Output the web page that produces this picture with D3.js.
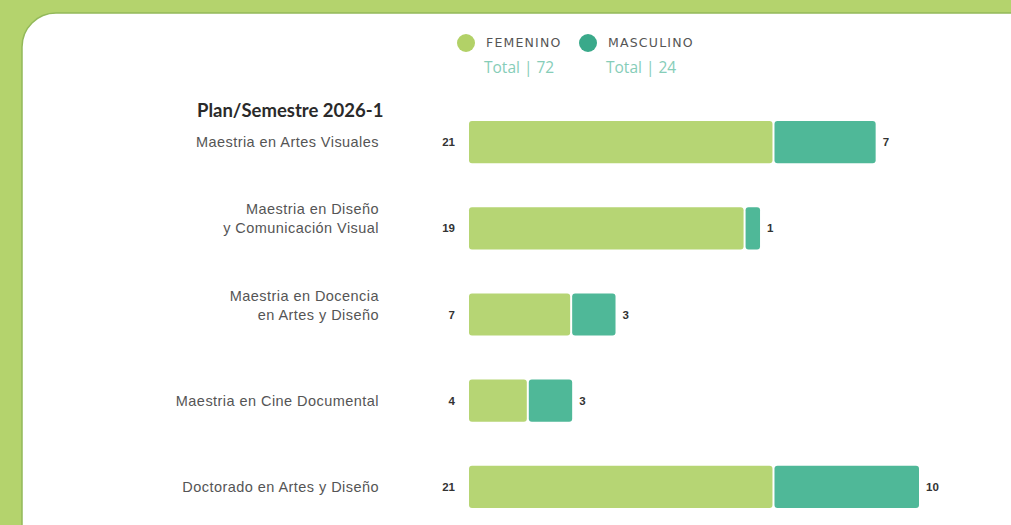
<!DOCTYPE html>
<html>
<head>
<meta charset="utf-8">
<script src="https://cdn.jsdelivr.net/npm/d3@7"></script>
<style>
  html, body { margin: 0; padding: 0; background: #b4d36d; }
  svg { display: block; }
</style>
</head>
<body>
<svg id="chart" width="1011" height="525"></svg>
<script>
const title = 'Plan/Semestre 2026-1'
const categories = [
  'Maestria en Artes Visuales',
  'Maestria en Diseño|y Comunicación Visual',
  'Maestria en Docencia|en Artes y Diseño',
  'Maestria en Cine Documental',
  'Doctorado en Artes y Diseño'
]
const femenino = [21, 19, 7, 4, 21]
const masculino = [7, 1, 3, 3, 10]
const seriesNames = ['FEMENINO', 'MASCULINO']
const colors = ['#b6d574', '#4fb898']
const legendColors = ['#b2d167', '#3aa98a']

let svg = d3.select('#chart')

// white card with rounded corner
svg.append('rect')
  .attr('x', 22).attr('y', 13)
  .attr('width', 1100).attr('height', 600)
  .attr('rx', 34)
  .attr('fill', '#ffffff')
  .attr('stroke', '#93b95a')
  .attr('stroke-width', 1.5)

let rows = categories.map((c, i) => ({ cat: c, f: femenino[i], m: masculino[i] }))

let xScale = d3.scaleLinear()
  .domain([0, 31])
  .range([469, 917])

let yScale = d3.scaleBand()
  .domain(categories)
  .range([121, 508])
  .paddingInner(0.51)
  .paddingOuter(0)

let g = svg.selectAll('g.row').data(rows)
  .enter()
  .append('g')
  .attr('class', 'row')

g.append('rect')
  .attr('fill', colors[0])
  .attr('rx', 3)
  .attr('x', xScale(0))
  .attr('y', d => yScale(d.cat))
  .attr('width', d => xScale(d.f) - xScale(0))
  .attr('height', yScale.bandwidth())

g.append('rect')
  .attr('fill', colors[1])
  .attr('rx', 3)
  .attr('x', d => xScale(d.f) + 2)
  .attr('y', d => yScale(d.cat))
  .attr('width', d => xScale(d.f + d.m) - xScale(d.f))
  .attr('height', yScale.bandwidth())

// left value
g.append('text')
  .attr('x', 455)
  .attr('y', d => yScale(d.cat) + yScale.bandwidth() / 2)
  .attr('dy', '0.35em')
  .attr('text-anchor', 'end')
  .style('font', 'bold 11.5px "Liberation Sans", Arial, sans-serif')
  .style('fill', '#333')
  .text(d => d.f)

// right value
g.append('text')
  .attr('x', d => xScale(d.f + d.m) + 9)
  .attr('y', d => yScale(d.cat) + yScale.bandwidth() / 2)
  .attr('dy', '0.35em')
  .style('font', 'bold 11.5px "Liberation Sans", Arial, sans-serif')
  .style('fill', '#333')
  .text(d => d.m)

// category labels, last line centred on the bar
g.each(function (d) {
  let lines = d.cat.split('|')
  let cy = yScale(d.cat) + yScale.bandwidth() / 2
  let t = d3.select(this).append('text')
    .attr('text-anchor', 'end')
    .style('font', '14.5px "Liberation Sans", Arial, sans-serif')
    .style('letter-spacing', '0.45px')
    .style('fill', '#555')
  lines.forEach((l, i) => {
    t.append('tspan')
      .attr('x', 379)
      .attr('y', cy - (lines.length - 1 - i) * 19)
      .attr('dy', '0.35em')
      .text(l)
  })
})

svg.append('text')
  .attr('x', 197).attr('y', 111)
  .attr('dy', '0.35em')
  .style('font', 'bold 18.5px Lato, sans-serif')
  .style('fill', '#2a2a2a')
  .text(title)

// legend
let totals = [d3.sum(femenino), d3.sum(masculino)]
let legendX = [466, 588]
seriesNames.forEach((s, i) => {
  svg.append('circle')
    .attr('cx', legendX[i]).attr('cy', 43).attr('r', 9)
    .attr('fill', legendColors[i])
  svg.append('text')
    .attr('x', legendX[i] + 20).attr('y', 43)
    .attr('dy', '0.35em')
    .style('font', '12.5px "DejaVu Sans", sans-serif')
    .style('letter-spacing', '1.2px')
    .style('fill', '#555')
    .text(s)
  svg.append('text')
    .attr('x', legendX[i] + 18).attr('y', 68)
    .attr('dy', '0.35em')
    .style('font', '15.5px "Open Sans", sans-serif')
    .style('fill', '#86cdb8')
    .text('Total | ' + totals[i])
})
</script>
</body>
</html>
